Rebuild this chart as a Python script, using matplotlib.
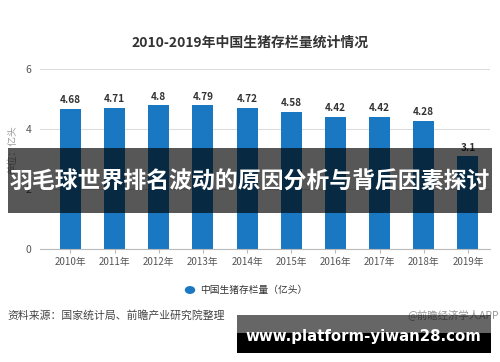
import matplotlib.pyplot as plt
from matplotlib.patches import Rectangle

plt.rcParams['font.family'] = ['Noto Sans CJK SC', 'DejaVu Sans']

# 数据
years = ['2010年', '2011年', '2012年', '2013年', '2014年',
         '2015年', '2016年', '2017年', '2018年', '2019年']
values = [4.68, 4.71, 4.8, 4.79, 4.72, 4.58, 4.42, 4.42, 4.28, 3.1]
value_labels = ['4.68', '4.71', '4.8', '4.79', '4.72', '4.58', '4.42', '4.42', '4.28', '3.1']
yticks = [0, 2, 4, 6]

bar_color = '#1a78c2'

fig = plt.figure(figsize=(5, 3.62), dpi=100)
ax = fig.add_axes([0.08, 0.312, 0.90, 0.497])

x = list(range(len(years)))
ax.bar(x, values, width=0.475, color=bar_color, zorder=2)
for xi, v, lab in zip(x, values, value_labels):
    ax.text(xi, v + 0.12, lab, ha='center', va='bottom', fontsize=7.2,
            fontweight='bold', color='#333333')

ax.set_xlim(-0.69, 9.5)
ax.set_ylim(0, 6)
ax.set_yticks(yticks)
ax.set_yticklabels([str(t) for t in yticks], fontsize=7.5, color='#555555')
ax.set_xticks(x)
ax.set_xticklabels(years, fontsize=7, color='#555555')
ax.grid(axis='y', color='#dddddd', linewidth=0.8, zorder=0)
ax.tick_params(axis='y', length=0, pad=6)
ax.tick_params(axis='x', length=3, color='#bbbbbb', pad=3)
for s in ['top', 'right', 'left']:
    ax.spines[s].set_visible(False)
ax.spines['bottom'].set_color('#bbbbbb')

# 标题
fig.text(0.5, 1 - 43 / 362, '2010-2019年中国生猪存栏量统计情况', ha='center',
         va='center', fontsize=10, fontweight='bold', color='#333333')

# 单位
fig.text(12 / 500, 1 - 150 / 362, '单位：亿头', rotation=90, ha='center',
         va='center', fontsize=7, color='#999999')

# 图例
fig.add_artist(plt.Circle((190 / 500, 1 - 290 / 362), 0.009, color=bar_color,
                          transform=fig.transFigure))
fig.text(200 / 500, 1 - 290 / 362, '中国生猪存栏量（亿头）', ha='left',
         va='center', fontsize=7, color='#333333')

# 来源
fig.text(7 / 500, 1 - 315 / 362, '资料来源：国家统计局、前瞻产业研究院整理',
         ha='left', va='center', fontsize=7.8, color='#444444')
fig.text(499 / 500, 1 - 315 / 362, '@前瞻经济学人APP', ha='right',
         va='center', fontsize=7.5, color='#999999')

# 横幅
fig.add_artist(Rectangle((8 / 500, 1 - 213 / 362), 484 / 500, 65 / 362,
                         transform=fig.transFigure, facecolor='black',
                         edgecolor='none', alpha=0.66, zorder=5))
fig.text(0.5, 1 - 182 / 362, '羽毛球世界排名波动的原因分析与背后因素探讨',
         ha='center', va='center', fontsize=16.5, fontweight='bold',
         color='white', zorder=6)

# 底部网址
fig.add_artist(Rectangle((237 / 500, 1 - 333 / 362), 254 / 500, 18 / 362,
                         transform=fig.transFigure, facecolor='black',
                         edgecolor='none', alpha=0.6, zorder=5))
fig.add_artist(Rectangle((237 / 500, 1 - 353 / 362), 254 / 500, 20 / 362,
                         transform=fig.transFigure, facecolor='black',
                         edgecolor='none', zorder=5))
fig.text(363 / 500, 1 - 337 / 362, 'www.platform-yiwan28.com', ha='center',
         va='center', fontsize=10.8, fontweight='bold', color='white',
         family='DejaVu Sans', zorder=6)

fig.savefig('out.png', dpi=100)
